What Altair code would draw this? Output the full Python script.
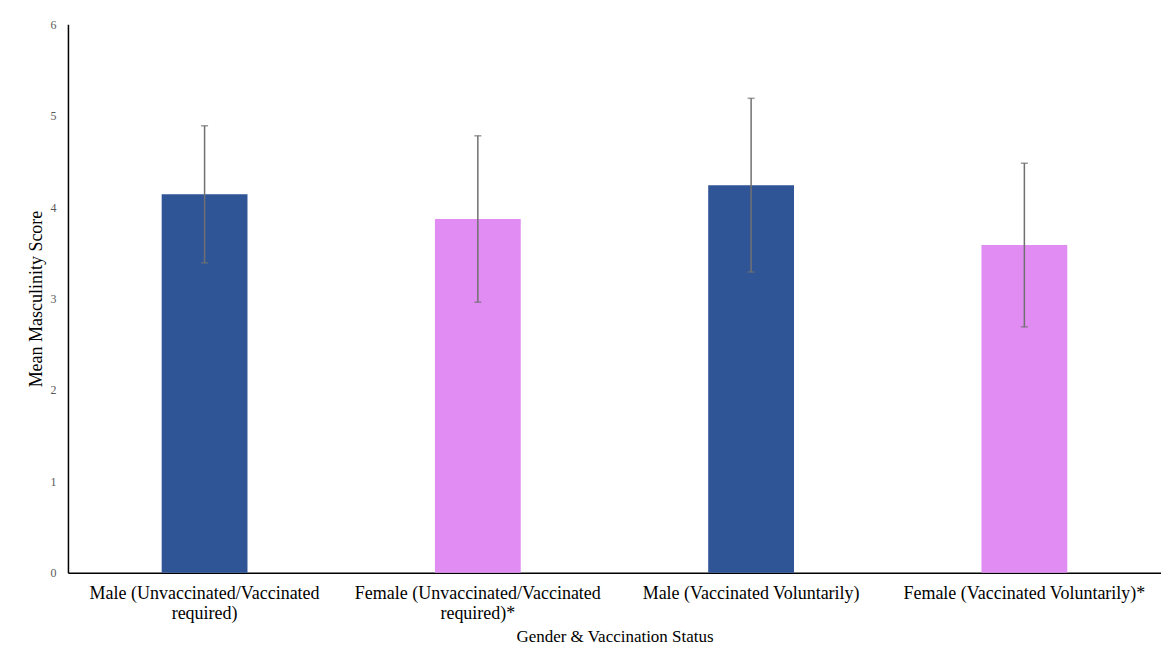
import altair as alt
import pandas as pd

categories = [
    "Male (Unvaccinated/Vaccinated|required)",
    "Female (Unvaccinated/Vaccinated|required)*",
    "Male (Vaccinated Voluntarily)",
    "Female (Vaccinated Voluntarily)*",
]
gender = ["Male", "Female", "Male", "Female"]
means = [4.14, 3.87, 4.24, 3.585]
errors = [0.75, 0.91, 0.95, 0.895]

df = pd.DataFrame({"cat": categories, "gender": gender, "mean": means, "err": errors})
df["lo"] = df["mean"] - df["err"]
df["hi"] = df["mean"] + df["err"]

FONT = "Liberation Serif"

x = alt.X(
    "cat:N",
    sort=categories,
    title="Gender & Vaccination Status",
    scale=alt.Scale(paddingInner=0.686, paddingOuter=0.343),
    axis=alt.Axis(
        labelExpr="split(datum.label, '|')",
        labelAngle=0,
        labelFont=FONT,
        labelFontSize=18,
        labelColor="#000000",
        labelPadding=12,
        labelLineHeight=20,
        labelLimit=400,
        ticks=False,
        grid=False,
        domainColor="#000000",
        domainWidth=1.5,
        titleFont=FONT,
        titleFontSize=17,
        titleFontWeight="normal",
        titleColor="#000000",
        titlePadding=6,
    ),
)

bars = alt.Chart(df).mark_bar().encode(
    x=x,
    y=alt.Y(
        "mean:Q",
        title="Mean Masculinity Score",
        scale=alt.Scale(domain=[0, 6]),
        axis=alt.Axis(
            values=[0, 1, 2, 3, 4, 5, 6],
            format="d",
            grid=False,
            ticks=False,
            labelFont=FONT,
            labelFontSize=12,
            labelColor="#595959",
            labelPadding=12,
            domainColor="#000000",
            domainWidth=1.5,
            titleFont=FONT,
            titleFontSize=18,
            titleFontWeight="normal",
            titleColor="#000000",
            titlePadding=4,
        ),
    ),
    color=alt.Color(
        "gender:N",
        scale=alt.Scale(domain=["Male", "Female"], range=["#2F5597", "#E18CF2"]),
        legend=None,
    ),
)

rules = alt.Chart(df).mark_rule(color="#707070", strokeWidth=1.5).encode(
    x=alt.X("cat:N", sort=categories),
    y="lo:Q",
    y2="hi:Q",
)

caps_hi = alt.Chart(df).mark_tick(color="#707070", size=7, thickness=1.5, orient="horizontal").encode(
    x=alt.X("cat:N", sort=categories, bandPosition=0.5),
    y="hi:Q",
)
caps_lo = alt.Chart(df).mark_tick(color="#707070", size=7, thickness=1.5, orient="horizontal").encode(
    x=alt.X("cat:N", sort=categories, bandPosition=0.5),
    y="lo:Q",
)

chart = (
    alt.layer(bars, rules, caps_hi, caps_lo)
    .properties(
        width=1094,
        height=549,
        background="#ffffff",
        autosize=alt.AutoSizeParams(type="none"),
        padding={"left": 60, "top": 16, "right": 0, "bottom": 80},
    )
    .configure_view(strokeWidth=0, stroke="transparent")
    .configure_axis(grid=False)
)

chart.save("out.html", embed_options={"renderer": "svg", "actions": False})
